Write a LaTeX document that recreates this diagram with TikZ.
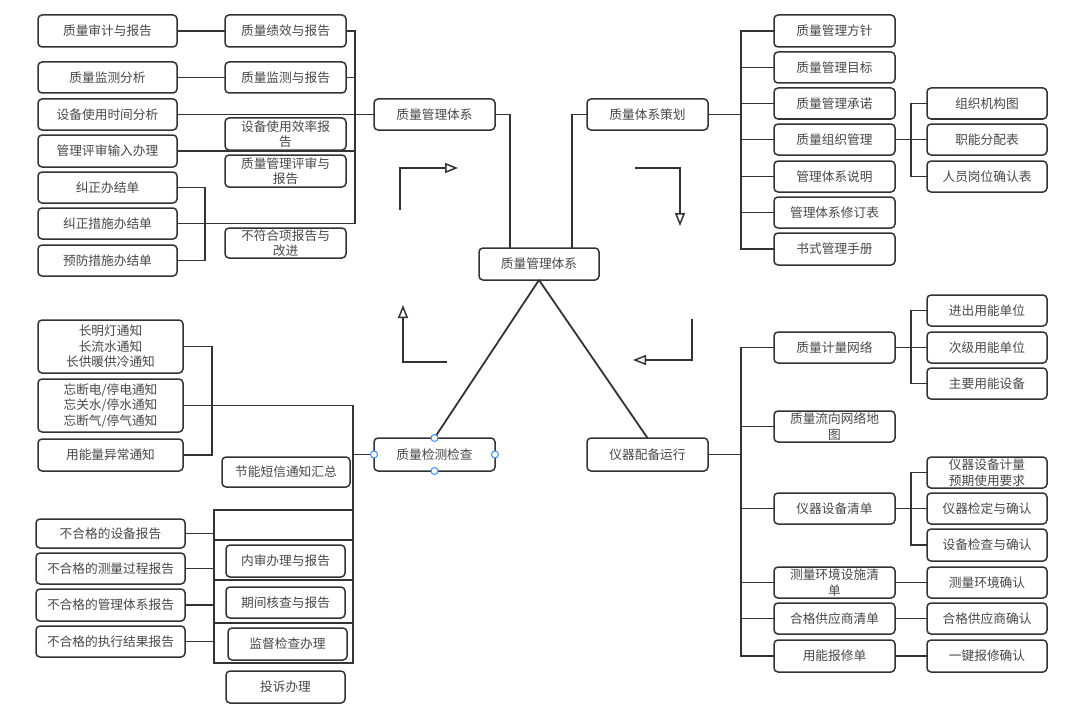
\documentclass[tikz,border=0pt]{standalone}
\usepackage{fontspec}
\setmainfont{Noto Sans CJK SC}
\usetikzlibrary{arrows.meta}
\definecolor{lc}{HTML}{333333}
\definecolor{tc}{HTML}{484848}
\definecolor{hc}{HTML}{3D8EF0}
\tikzset{
  box/.style={draw=lc, line width=1.5pt, rounded corners=4pt, fill=white, inner sep=0pt, outer sep=0pt,
    align=center, text=tc, font=\fontsize{12.7}{15.5}\selectfont},
  link/.style={draw=lc, line width=1.8pt},
  flow/.style={draw=lc, line width=1.8pt, -{Triangle[open,length=13pt,width=10pt,line width=1.5pt]}},
  handle/.style={draw=hc, fill=white, line width=1pt},
  grid/.style={draw=lc, line width=1.5pt}
}
\newcommand\bx[6]{\node[box,minimum width={(#4)-(#2)},minimum height={(#5)-(#3)}] (#1) at ({((#2)+(#4))/2},{((#3)+(#5))/2}) {#6};}
\begin{document}
\begin{tikzpicture}[x=1pt,y=-1pt]
\useasboundingbox[fill=white] (0,0) rectangle (1080,725);
% top-left
\bx{qa1}{38}{15}{177}{47}{质量审计与报告}
\bx{qa2}{225}{15}{346}{47}{质量绩效与报告}
\bx{qm1}{38}{62}{177}{93}{质量监测分析}
\bx{qm2}{225}{62}{346}{93}{质量监测与报告}
\bx{sb}{38}{99}{177}{130}{设备使用时间分析}
\bx{se}{225}{118}{346}{150}{设备使用效率报\\告}
\bx{gl}{38}{135}{177}{167}{管理评审输入办理}
\bx{gr}{225}{155}{346}{187}{质量管理评审与\\报告}
\bx{jz1}{38}{172}{177}{203}{纠正办结单}
\bx{jz2}{38}{208}{177}{239}{纠正措施办结单}
\bx{yf}{38}{245}{177}{276}{预防措施办结单}
\bx{bf}{225}{228}{346}{258}{不符合项报告与\\改进}
% centre
\bx{qms}{374}{99}{495}{130}{质量管理体系}
\bx{ctr}{479}{248}{599}{280}{质量管理体系}
\bx{plan}{587}{99}{708}{130}{质量体系策划}
\bx{chk}{374}{438}{495}{471}{质量检测检查}
\bx{run}{587}{438}{708}{471}{仪器配备运行}
% right-top
\bx{r1}{774}{15}{895}{47}{质量管理方针}
\bx{r2}{774}{52}{895}{83}{质量管理目标}
\bx{r3}{774}{88}{895}{119}{质量管理承诺}
\bx{r4}{774}{124}{895}{155}{质量组织管理}
\bx{r5}{774}{161}{895}{192}{管理体系说明}
\bx{r6}{774}{197}{895}{228}{管理体系修订表}
\bx{r7}{774}{233}{895}{265}{书式管理手册}
\bx{o1}{927}{88}{1047}{119}{组织机构图}
\bx{o2}{927}{124}{1047}{155}{职能分配表}
\bx{o3}{927}{161}{1047}{192}{人员岗位确认表}
% right-bottom
\bx{m1}{774}{332}{895}{363}{质量计量网络}
\bx{m2}{774}{411}{895}{442}{质量流向网络地\\图}
\bx{m3}{774}{493}{895}{524}{仪器设备清单}
\bx{m4}{774}{567}{895}{598}{测量环境设施清\\单}
\bx{m5}{774}{603}{895}{634}{合格供应商清单}
\bx{m6}{774}{640}{895}{672}{用能报修单}
\bx{n1}{927}{295}{1047}{326}{进出用能单位}
\bx{n2}{927}{332}{1047}{363}{次级用能单位}
\bx{n3}{927}{368}{1047}{399}{主要用能设备}
\bx{p1}{927}{457}{1047}{488}{仪器设备计量\\预期使用要求}
\bx{p2}{927}{493}{1047}{524}{仪器检定与确认}
\bx{p3}{927}{529}{1047}{561}{设备检查与确认}
\bx{q4}{927}{567}{1047}{598}{测量环境确认}
\bx{q5}{927}{603}{1047}{634}{合格供应商确认}
\bx{q6}{927}{640}{1047}{672}{一键报修确认}
% bottom-left
\bx{c1}{38}{320}{183}{373}{长明灯通知\\长流水通知\\长供暖供冷通知}
\bx{c2}{38}{379}{183}{432}{忘断电/停电通知\\忘关水/停水通知\\忘断气/停气通知}
\bx{c3}{38}{439}{183}{471}{用能量异常通知}
\bx{sms}{222}{457}{350}{487}{节能短信通知汇总}
\bx{d1}{36}{519}{185}{548}{不合格的设备报告}
\bx{d2}{36}{553}{185}{584}{不合格的测量过程报告}
\bx{d3}{36}{589}{185}{621}{不合格的管理体系报告}
\bx{d4}{36}{626}{185}{657}{不合格的执行结果报告}
% coordinates
\coordinate (T1) at (355,31);
\coordinate (B1) at (205,200);
\coordinate (RT) at (741,0);
\coordinate (ST) at (911,0);
\coordinate (B2) at (212,400);
\coordinate (T3) at (353,663);
\coordinate (G) at (214,0);
% top-left connectors
\draw[link] (qa1.east) -- (qa2.west);
\draw[link] (qm1.east) -- (qm2.west);
\draw[link] (qa2.east) -- (T1) |- (jz2.east);
\draw[link] (qm2.east) -- (qm2.east -| T1);
\draw[link] (sb.east) -- (qms.west);
\draw[link] (gl.east) -- (gl.east -| T1);
\draw[link] (jz1.east) -| (B1) |- (yf.east);
% centre connectors
\draw[link] (qms.east) -| ([xshift=-29pt]ctr.north);
\draw[link] ([xshift=33pt]ctr.north) |- (plan.west);
\draw[link] (ctr.south) -- (chk.north);
\draw[link] (ctr.south) -- (run.north);
% right-top
\draw[link] (plan.east) -- (plan.east -| RT);
\draw[link] (r1.west) -- (r1.west -| RT) -- (r7.west -| RT) -- (r7.west);
\foreach \n in {r2,r3,r4,r5,r6} \draw[link] (\n.west) -- (\n.west -| RT);
\draw[link] (r4.east) -- (o2.west);
\draw[link] (o1.west) -- (o1.west -| ST) -- (o3.west -| ST) -- (o3.west);
% right-bottom
\draw[link] (run.east) -- (run.east -| RT);
\draw[link] (m1.west) -- (m1.west -| RT) -- (m6.west -| RT) -- (m6.west);
\foreach \n in {m2,m3,m4,m5} \draw[link] (\n.west) -- (\n.west -| RT);
\draw[link] (m1.east) -- (n2.west);
\draw[link] (n1.west) -- (n1.west -| ST) -- (n3.west -| ST) -- (n3.west);
\draw[link] (m3.east) -- (p2.west);
\draw[link] (p1.west) -- (p1.west -| ST) -- (p3.west -| ST) -- (p3.west);
\draw[link] (m4.east) -- (q4.west);
\draw[link] (m5.east) -- (q5.west);
\draw[link] (m6.east) -- (q6.west);
% bottom-left
\draw[link] (c1.east) -| (B2) |- (c3.east);
\draw[link] (c2.east) -| (T3);
\draw[link] (chk.west) -- (chk.west -| T3);
\draw[grid] (214,510) rectangle (353,663);
\draw[grid] (214,540) -- (353,540);
\draw[grid] (214,580) -- (353,580);
\draw[grid] (214,623) -- (353,623);
\foreach \n in {d1,d2,d3,d4} \draw[link] (\n.east) -- (\n.east -| G);
\bx{e1}{226}{545}{345}{577}{内审办理与报告}
\bx{e2}{226}{587}{345}{618}{期间核查与报告}
\bx{e3}{228}{628}{347}{660}{监督检查办理}
\bx{e4}{226}{671}{345}{703}{投诉办理}
% cycle arrows
\coordinate (a1s) at (400,210); \coordinate (a1m) at (400,168); \coordinate (a1e) at (458,168);
\draw[flow] (a1s) -- (a1m) -- (a1e);
\coordinate (a2s) at (635,168); \coordinate (a2m) at (680,168); \coordinate (a2e) at (680,226);
\draw[flow] (a2s) -- (a2m) -- (a2e);
\coordinate (a3s) at (447,362); \coordinate (a3m) at (403,362); \coordinate (a3e) at (403,305);
\draw[flow] (a3s) -- (a3m) -- (a3e);
\coordinate (a4s) at (692,319); \coordinate (a4m) at (692,360); \coordinate (a4e) at (633,360);
\draw[flow] (a4s) -- (a4m) -- (a4e);
% selection handles
\foreach \a in {north,south,east,west} \draw[handle] (chk.\a) circle (3.5);
\end{tikzpicture}
\end{document}
